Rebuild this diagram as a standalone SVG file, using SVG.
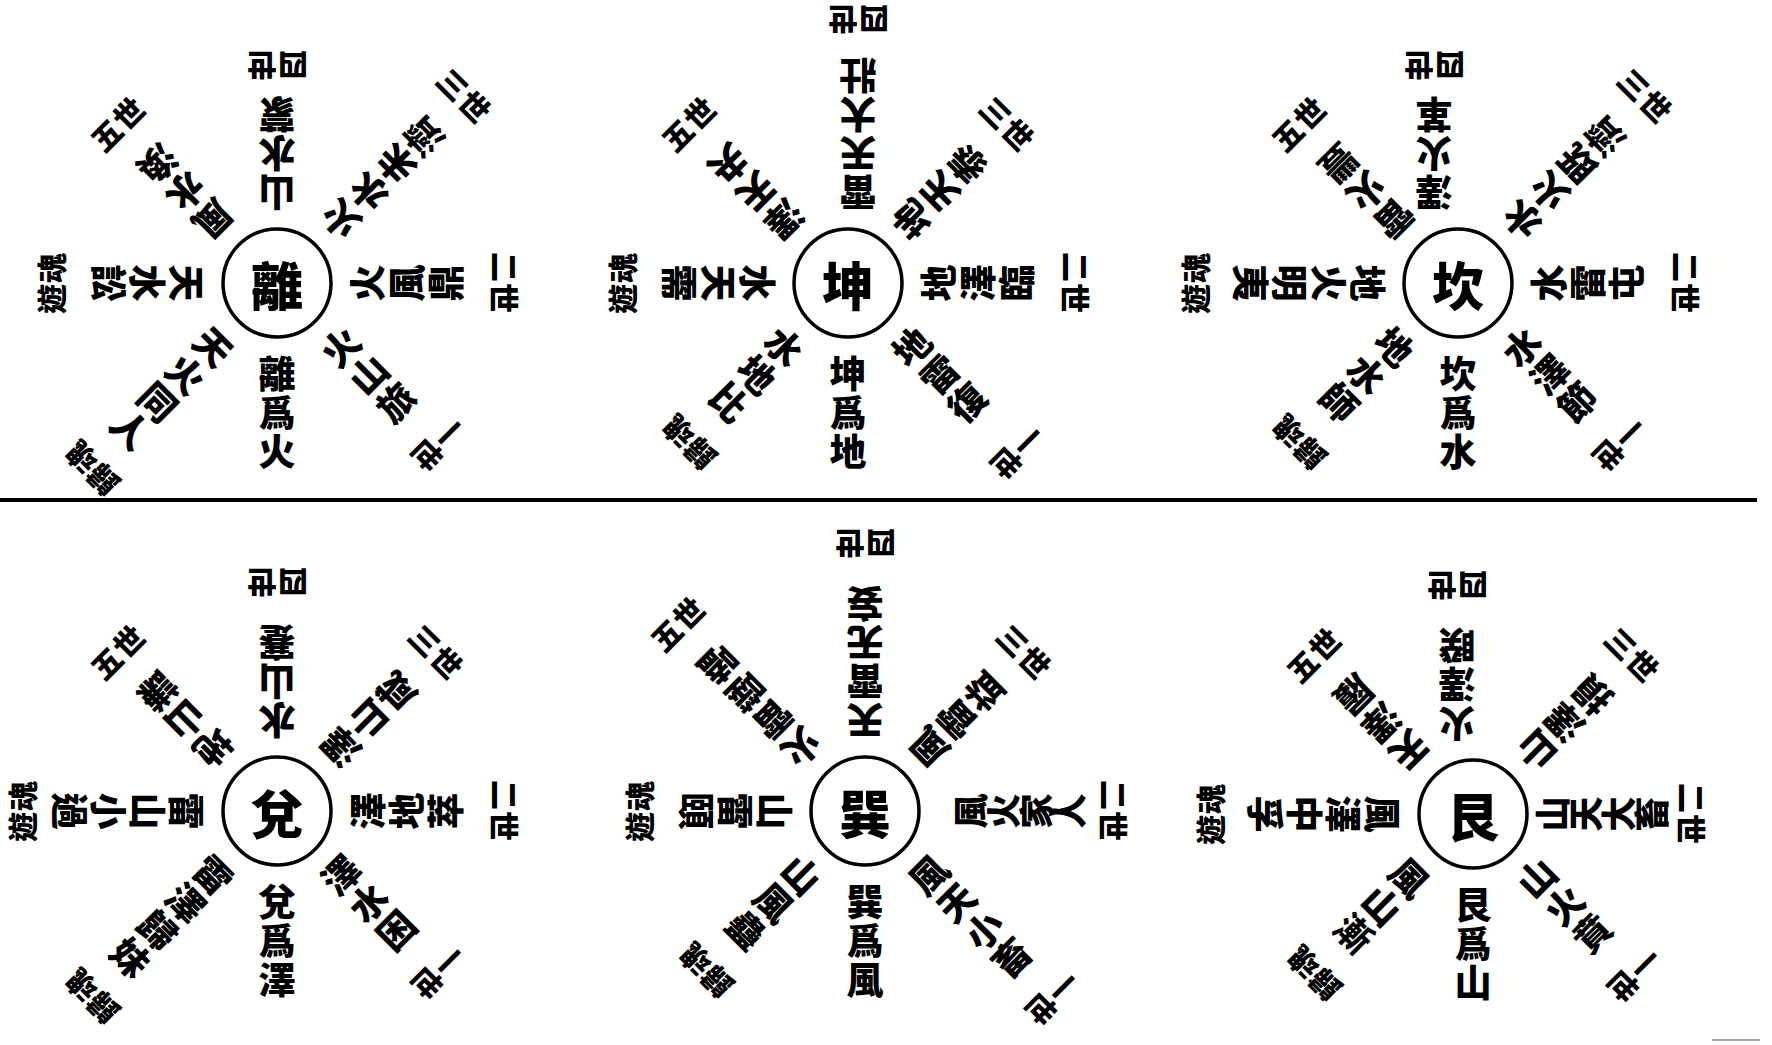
<svg xmlns="http://www.w3.org/2000/svg" width="1772" height="1045" viewBox="0 0 1772 1045">
<style>
.c{fill:none;stroke:#000;stroke-width:3.5}
.t{font-family:"Noto Sans CJK TC","Noto Sans CJK SC",sans-serif;font-weight:900;fill:#000}
.s{font-size:37px;writing-mode:vertical-rl;text-orientation:upright;letter-spacing:2px}
.k{font-size:35px;letter-spacing:-2px}
.l{font-size:30px;text-anchor:middle;dominant-baseline:central;letter-spacing:1px}
.m{font-size:52px;text-anchor:middle;dominant-baseline:central}
</style>
<rect width="1772" height="1045" fill="#fff"/>
<g id="connectors">
<line x1="0" y1="500" x2="1757" y2="500" stroke="#000" stroke-width="4"/>
<line x1="1712" y1="1040" x2="1760" y2="1040" stroke="#888" stroke-width="1.5"/>
</g>
<g id="li" transform="translate(277,283)">
<circle class="c" r="54"/>
<text class="t m">離</text>
<text class="t s" x="0" y="72">離爲火</text>
<text class="t s" x="0" y="72" transform="rotate(-45)">火山旅</text>
<text class="t s" x="0" y="72" transform="rotate(-90)">火風鼎</text>
<text class="t s" x="0" y="72" transform="rotate(-135)">火水未濟</text>
<text class="t s" x="0" y="72" transform="rotate(180)">山水蒙</text>
<text class="t s" x="0" y="72" transform="rotate(135)">風水渙</text>
<text class="t s" x="0" y="72" transform="rotate(90)">天水訟</text>
<text class="t s" x="0" y="72" transform="rotate(45)">天火同人</text>
<text class="t l" transform="translate(162,162) rotate(135)">一世</text>
<text class="t l" transform="translate(229,0) rotate(90)">二世</text>
<text class="t l" transform="translate(188,-188) rotate(45)">三世</text>
<text class="t l" transform="translate(0,-216) rotate(180)">四世</text>
<text class="t l" transform="translate(-160,-160) rotate(-45)">五世</text>
<text class="t l" transform="translate(-227,0) rotate(-90)">遊魂</text>
<text class="t l" transform="translate(-186,186) rotate(-135)">歸魂</text>
</g>
<g id="kun" transform="translate(848,283)">
<circle class="c" r="54"/>
<text class="t m">坤</text>
<text class="t s" x="0" y="72">坤爲地</text>
<text class="t s" x="0" y="72" transform="rotate(-45)">地雷復</text>
<text class="t s" x="0" y="72" transform="rotate(-90)">地澤臨</text>
<text class="t s" x="0" y="72" transform="rotate(-135)">地天泰</text>
<text class="t s" x="0" y="72" transform="translate(10,0) rotate(180)">雷天大壯</text>
<text class="t s" x="0" y="72" transform="rotate(135)">澤天夬</text>
<text class="t s" x="0" y="72" transform="rotate(90)">水天需</text>
<text class="t s" x="0" y="72" transform="rotate(45)">水地比</text>
<text class="t l" transform="translate(170,170) rotate(135)">一世</text>
<text class="t l" transform="translate(229,0) rotate(90)">二世</text>
<text class="t l" transform="translate(160,-160) rotate(45)">三世</text>
<text class="t l" transform="translate(10,-262) rotate(180)">四世</text>
<text class="t l" transform="translate(-160,-160) rotate(-45)">五世</text>
<text class="t l" transform="translate(-227,0) rotate(-90)">遊魂</text>
<text class="t l" transform="translate(-160,160) rotate(-135)">歸魂</text>
</g>
<g id="kan" transform="translate(1458,283)">
<circle class="c" r="54"/>
<text class="t m">坎</text>
<text class="t s" x="0" y="72">坎爲水</text>
<text class="t s" x="0" y="72" transform="rotate(-45)">水澤節</text>
<text class="t s" x="0" y="72" transform="rotate(-90)">水雷屯</text>
<text class="t s" x="0" y="72" transform="rotate(-135)">水火既濟</text>
<text class="t s" x="0" y="72" transform="translate(-24,0) rotate(180)">澤火革</text>
<text class="t s" x="0" y="72" transform="rotate(135)">雷火豐</text>
<text class="t s" x="0" y="72" transform="rotate(90)">地火明夷</text>
<text class="t s" x="0" y="72" transform="rotate(45)">地水師</text>
<text class="t l" transform="translate(162,162) rotate(135)">一世</text>
<text class="t l" transform="translate(229,0) rotate(90)">二世</text>
<text class="t l" transform="translate(188,-188) rotate(45)">三世</text>
<text class="t l" transform="translate(-24,-216) rotate(180)">四世</text>
<text class="t l" transform="translate(-160,-160) rotate(-45)">五世</text>
<text class="t l" transform="translate(-264,0) rotate(-90)">遊魂</text>
<text class="t l" transform="translate(-160,160) rotate(-135)">歸魂</text>
</g>
<g id="dui" transform="translate(277,811)">
<circle class="c" r="54"/>
<text class="t m">兌</text>
<text class="t s" x="0" y="72">兌爲澤</text>
<text class="t s" x="0" y="72" transform="rotate(-45)">澤水困</text>
<text class="t s" x="0" y="72" transform="rotate(-90)">澤地萃</text>
<text class="t s" x="0" y="72" transform="rotate(-135)">澤山咸</text>
<text class="t s" x="0" y="72" transform="rotate(180)">水山蹇</text>
<text class="t s" x="0" y="72" transform="rotate(135)">地山謙</text>
<text class="t s" x="0" y="72" transform="rotate(90)">雷山小過</text>
<text class="t s" x="0" y="72" transform="rotate(45)">雷澤歸妹</text>
<text class="t l" transform="translate(162,162) rotate(135)">一世</text>
<text class="t l" transform="translate(229,0) rotate(90)">二世</text>
<text class="t l" transform="translate(160,-160) rotate(45)">三世</text>
<text class="t l" transform="translate(0,-227) rotate(180)">四世</text>
<text class="t l" transform="translate(-160,-160) rotate(-45)">五世</text>
<text class="t l" transform="translate(-256,0) rotate(-90)">遊魂</text>
<text class="t l" transform="translate(-186,186) rotate(-135)">歸魂</text>
</g>
<g id="xun" transform="translate(865,811)">
<circle class="c" r="54"/>
<text class="t m">巽</text>
<text class="t s" x="0" y="72">巽爲風</text>
<text class="t s" x="0" y="72" transform="rotate(-45)">風天小畜</text>
<text class="t s k" x="0" y="88" transform="rotate(-90)">風火家人</text>
<text class="t s" x="0" y="72" transform="rotate(-135)">風雷益</text>
<text class="t s" x="0" y="72" transform="rotate(180)">天雷无妄</text>
<text class="t s" x="0" y="72" transform="rotate(135)">火雷噬嗑</text>
<text class="t s" x="0" y="72" transform="rotate(90)">山雷頤</text>
<text class="t s" x="0" y="72" transform="rotate(45)">山風蠱</text>
<text class="t l" transform="translate(188,188) rotate(135)">一世</text>
<text class="t l" transform="translate(250,0) rotate(90)">二世</text>
<text class="t l" transform="translate(160,-160) rotate(45)">三世</text>
<text class="t l" transform="translate(0,-266) rotate(180)">四世</text>
<text class="t l" transform="translate(-188,-188) rotate(-45)">五世</text>
<text class="t l" transform="translate(-227,0) rotate(-90)">遊魂</text>
<text class="t l" transform="translate(-160,160) rotate(-135)">歸魂</text>
</g>
<g id="gen" transform="translate(1473,814)">
<circle class="c" r="54"/>
<text class="t m">艮</text>
<text class="t s" x="0" y="72">艮爲山</text>
<text class="t s" x="0" y="72" transform="rotate(-45)">山火賁</text>
<text class="t s k" x="0" y="62" transform="rotate(-90)">山天大畜</text>
<text class="t s" x="0" y="72" transform="rotate(-135)">山澤損</text>
<text class="t s" x="0" y="72" transform="translate(-16,0) rotate(180)">火澤睽</text>
<text class="t s" x="0" y="72" transform="rotate(135)">天澤履</text>
<text class="t s" x="0" y="72" transform="rotate(90)">風澤中孚</text>
<text class="t s" x="0" y="72" transform="rotate(45)">風山漸</text>
<text class="t l" transform="translate(162,162) rotate(135)">一世</text>
<text class="t l" transform="translate(220,0) rotate(90)">二世</text>
<text class="t l" transform="translate(160,-160) rotate(45)">三世</text>
<text class="t l" transform="translate(-16,-227) rotate(180)">四世</text>
<text class="t l" transform="translate(-160,-160) rotate(-45)">五世</text>
<text class="t l" transform="translate(-264,0) rotate(-90)">遊魂</text>
<text class="t l" transform="translate(-160,160) rotate(-135)">歸魂</text>
</g>
</svg>
